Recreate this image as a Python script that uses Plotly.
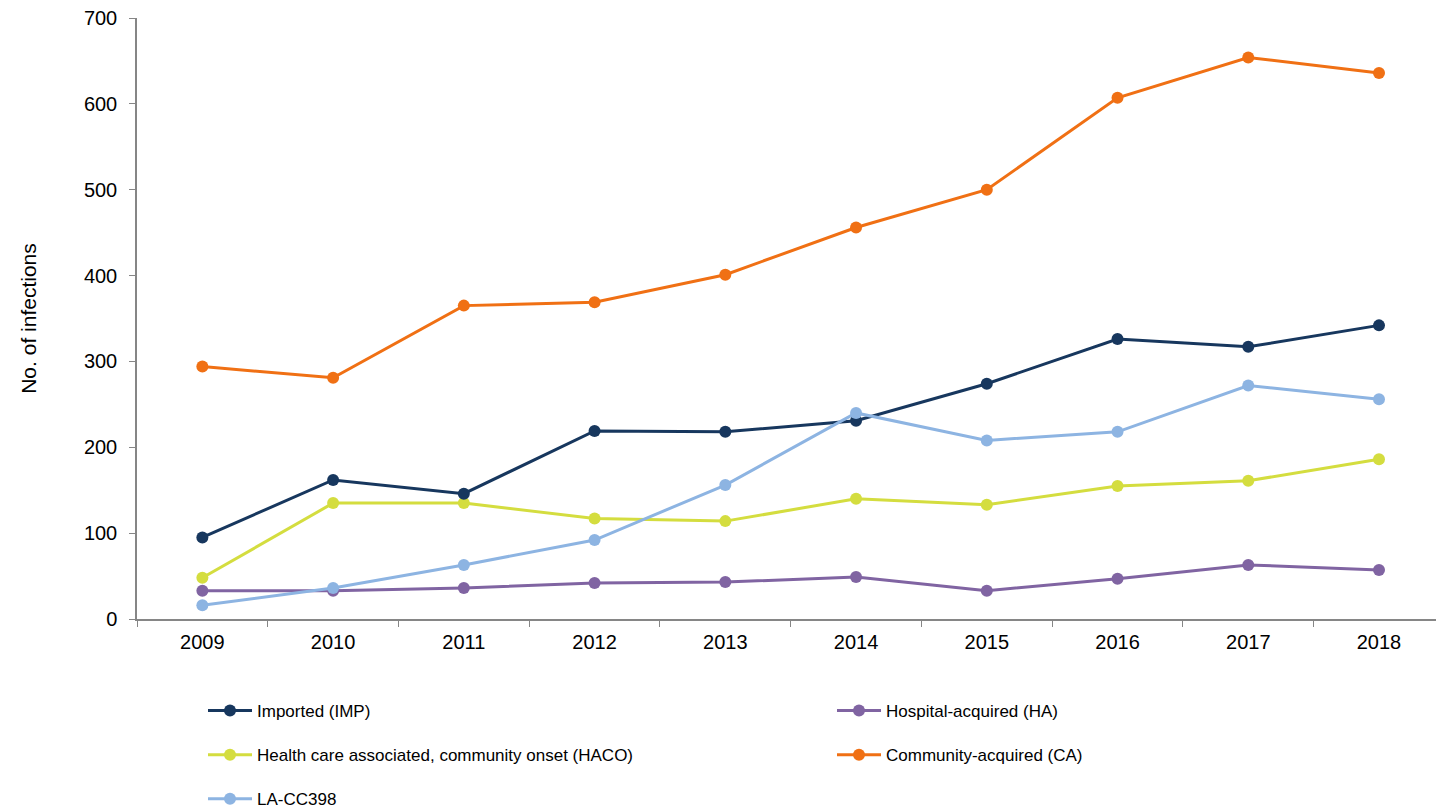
import plotly.graph_objects as go

years = ["2009", "2010", "2011", "2012", "2013", "2014", "2015", "2016", "2017", "2018"]

imported = [95, 162, 146, 219, 218, 231, 274, 326, 317, 342]
hospital = [33, 33, 36, 42, 43, 49, 33, 47, 63, 57]
haco = [48, 135, 135, 117, 114, 140, 133, 155, 161, 186]
community = [294, 281, 365, 369, 401, 456, 500, 607, 654, 636]
la_cc398 = [16, 36, 63, 92, 156, 240, 208, 218, 272, 256]

y_ticks = [0, 100, 200, 300, 400, 500, 600, 700]

FONT = "Liberation Sans, Arial, sans-serif"

series = [
    ("Imported (IMP)", imported, "#17375E", "legend"),
    ("Hospital-acquired (HA)", hospital, "#8064A2", "legend2"),
    ("Health care associated, community onset (HACO)", haco, "#D4DD3F", "legend"),
    ("Community-acquired (CA)", community, "#F07014", "legend2"),
    ("LA-CC398", la_cc398, "#8DB4E2", "legend"),
]

# draw order: back to front
draw_order = [2, 1, 0, 4, 3]

fig = go.Figure()
for i in draw_order:
    name, vals, color, leg = series[i]
    fig.add_trace(go.Scatter(
        x=years, y=vals, name=name, mode="lines+markers",
        line=dict(color=color, width=3),
        marker=dict(color=color, size=12),
        legend=leg, legendrank=i, legendgroup="g%d" % i,
    ))

PLOT_L, PLOT_W = 137, 1299
leg_top = 1 - 693 / 809  # container fraction

legend_common = dict(
    xref="paper", yref="container", y=leg_top,
    xanchor="left", yanchor="top",
    font=dict(size=17, family=FONT), tracegroupgap=19,
    itemwidth=44, bgcolor="rgba(0,0,0,0)",
)

fig.update_layout(
    width=1436, height=809,
    margin=dict(l=137, r=0, t=18, b=190),
    paper_bgcolor="white", plot_bgcolor="white",
    font=dict(family=FONT, color="#000000", size=20),
    showlegend=True,
    legend=dict(x=(203 - PLOT_L) / PLOT_W, **legend_common),
    legend2=dict(x=(832 - PLOT_L) / PLOT_W, **legend_common),
)

fig.update_xaxes(
    type="category", range=[-0.5, 9.436],
    showline=True, linecolor="#868686", linewidth=1.5,
    ticks="outside", tickson="boundaries", ticklen=6, tickcolor="#868686",
    showgrid=False, zeroline=False, automargin=False,
    tickfont=dict(size=20, family=FONT), ticklabelstandoff=4,
)
fig.update_yaxes(
    range=[0, 700], tickvals=y_ticks,
    showline=True, linecolor="#868686", linewidth=1.5,
    ticks="outside", ticklen=6, tickcolor="#868686",
    showgrid=False, zeroline=False, automargin=False,
    tickfont=dict(size=20, family=FONT), ticklabelstandoff=8,
    title=dict(text="No. of infections", font=dict(size=21, family=FONT), standoff=42),
)

fig.write_html("out.html")
